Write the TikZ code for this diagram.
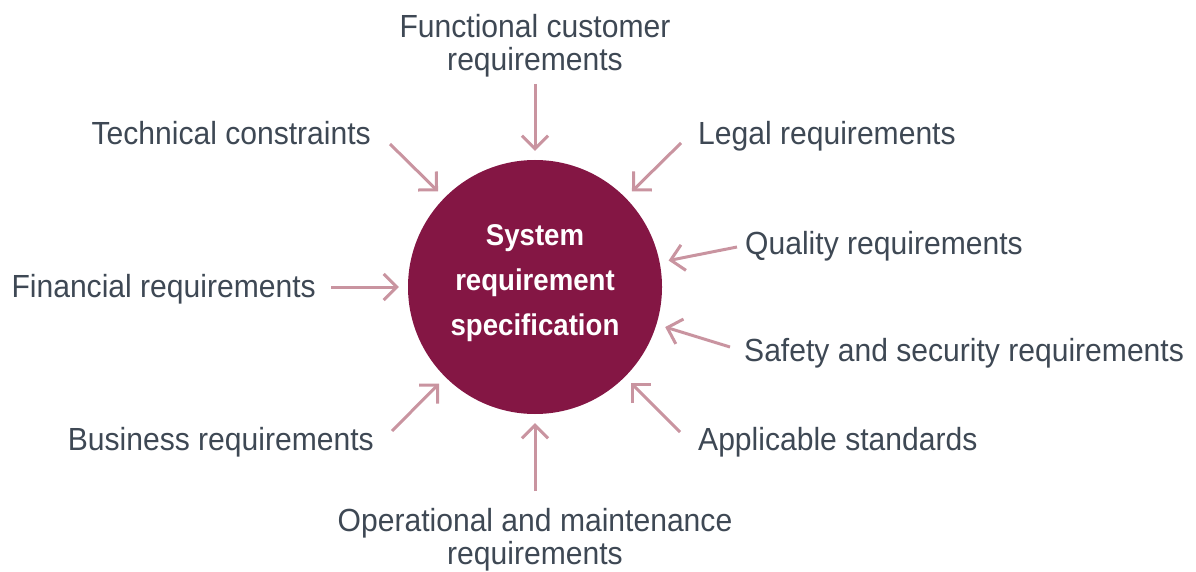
\documentclass[tikz,border=0pt]{standalone}
\usepackage{fontspec}
\setmainfont{Liberation Sans}
\newfontfamily\labelfont[FakeStretch=0.94]{Liberation Sans}
\newfontfamily\centerfont[FakeStretch=0.92]{Liberation Sans}
\usetikzlibrary{arrows.meta}
\definecolor{circlered}{RGB}{132,22,68}
\definecolor{arrowpink}{RGB}{201,148,160}
\definecolor{labelgray}{RGB}{62,72,84}
\tikzset{
  lbl/.style={inner sep=0pt, text=labelgray, font=\labelfont\fontsize{32}{33}\selectfont, align=center},
  arr/.style={draw=arrowpink, line width=3pt, -{Straight Barb[length=13pt,width=26pt,line width=3pt]}, shorten >=9pt},
}
\begin{document}
\begin{tikzpicture}[x=1pt,y=-1pt]
\useasboundingbox (0,0) rectangle (1196,572);
\node[circle, fill=circlered, minimum size=254pt, inner sep=0pt] (c) at (535,287) {};
\node[text=white, font=\centerfont\bfseries\fontsize{30}{45}\selectfont, align=center, inner sep=0pt] (ct) at (535,283) {System\\requirement\\specification};

\node[lbl, anchor=base] (top) at (535,71) {Functional customer\\requirements};
\node[lbl, anchor=base east] (tech) at (371,145) {Technical constraints};
\node[lbl, anchor=base west] (legal) at (698,145) {Legal requirements};
\node[lbl, anchor=base west] (qual) at (745,254) {Quality requirements};
\node[lbl, anchor=base east] (fin) at (316,297) {Financial requirements};
\node[lbl, anchor=base west] (safe) at (744,361) {Safety and security requirements};
\node[lbl, anchor=base east] (bus) at (374,450) {Business requirements};
\node[lbl, anchor=base west] (appl) at (698,450) {Applicable standards};
\node[lbl, anchor=base] (oper) at (535,564) {Operational and maintenance\\requirements};

\coordinate (sTop) at (535,84);
\coordinate (sTech) at (390,144);
\coordinate (sLegal) at (681,143);
\coordinate (sQual) at (737,247);
\coordinate (sFin) at (331,287);
\coordinate (sSafe) at (730,347);
\coordinate (sBus) at (392,431);
\coordinate (sAppl) at (680,432);
\coordinate (sOper) at (535,491);

\foreach \s in {sTop,sTech,sLegal,sQual,sFin,sSafe,sBus,sAppl,sOper}
  \draw[arr] (\s) -- (c);
\end{tikzpicture}
\end{document}
